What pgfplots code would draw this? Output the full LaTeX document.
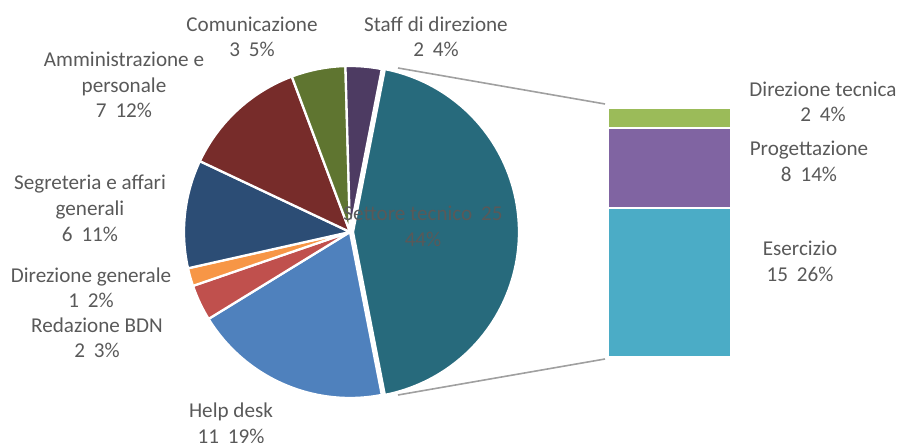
\documentclass[border=0pt]{standalone}
\usepackage{pgfplots}
\pgfplotsset{compat=1.18}
\usepackage{fontspec}
\setmainfont{Carlito}
\definecolor{teal1}{HTML}{276A7C}
\definecolor{helpdesk}{HTML}{4F81BD}
\definecolor{redaz}{HTML}{C0504D}
\definecolor{dirgen}{HTML}{F79646}
\definecolor{segr}{HTML}{2C4D75}
\definecolor{ammin}{HTML}{772C2A}
\definecolor{comun}{HTML}{5F7530}
\definecolor{staff}{HTML}{4D3B62}
\definecolor{eserc}{HTML}{4BACC6}
\definecolor{proget}{HTML}{8064A2}
\definecolor{dirtec}{HTML}{9BBB59}
\definecolor{lblgray}{HTML}{595959}
\definecolor{linegray}{HTML}{A0A0A0}
\def\tot{57}
\newcommand\pieslice[3]{%
  \pgfmathsetmacro\sa{\cur}%
  \pgfmathsetmacro\ea{\cur-360*#1/\tot}%
  \xdef\cur{\ea}%
  \edef\temp{\noexpand\addplot[fill=#2, draw=white, line width=2.3pt, line join=round, domain=\ea:\sa, samples=90] ({#3+166*cos(x)},{211+166*sin(x)}) -- (axis cs:#3,211) -- cycle;}%
  \temp
}
\newcommand\lbl[3]{\node[anchor=base, text=lblgray, inner sep=0pt, font=\fontsize{21.2}{25}\selectfont] at (axis cs:#1,{443-#2}) {#3};}
\newcommand\sep{\hspace{0.42em}}
\begin{document}
\begin{tikzpicture}
\begin{axis}[at={(0,0)}, anchor=south west, width=899bp, height=443bp, scale only axis,
  xmin=0, xmax=899, ymin=0, ymax=443, hide axis, clip=false]
\pgfmathsetmacro\cur{360*25/57/2}
\xdef\cur{\cur}
\pieslice{25}{teal1}{353}
\pieslice{11}{helpdesk}{350}
\pieslice{2}{redaz}{350}
\pieslice{1}{dirgen}{350}
\pieslice{6}{segr}{350}
\pieslice{7}{ammin}{350}
\pieslice{3}{comun}{350}
\pieslice{2}{staff}{350}
\addplot[linegray, line width=1.6pt, no marks] coordinates {(398,375) (605,339)};
\addplot[linegray, line width=1.6pt, no marks] coordinates {(398,48) (605,84)};
\lbl{252}{32}{Comunicazione}
\lbl{252}{57}{3\sep5\%}
\lbl{436}{32}{Staff di direzione}
\lbl{436}{57}{2\sep4\%}
\lbl{124}{67}{Amministrazione e}
\lbl{124}{93}{personale}
\lbl{124}{118}{7\sep12\%}
\lbl{90}{190}{Segreteria e affari}
\lbl{90}{216}{generali}
\lbl{90}{242}{6\sep11\%}
\lbl{91}{283}{Direzione generale}
\lbl{91}{308}{1\sep2\%}
\lbl{97}{333}{Redazione BDN}
\lbl{97}{358}{2\sep3\%}
\lbl{231}{417}{Help desk}
\lbl{231}{443}{11\sep19\%}
\lbl{423}{221}{Settore tecnico\sep25}
\lbl{423}{247}{44\%}
\lbl{823}{97}{Direzione tecnica}
\lbl{823}{122}{2\sep4\%}
\lbl{809}{156}{Progettazione}
\lbl{809}{182}{8\sep14\%}
\lbl{800}{256}{Esercizio}
\lbl{800}{282}{15\sep26\%}
\end{axis}
\begin{axis}[at={(608bp,86bp)}, anchor=south west, width=123bp, height=249bp, scale only axis,
  xmin=-0.5, xmax=0.5, ymin=0, ymax=25, hide axis, clip=false, ybar stacked, bar width=123bp]
\addplot[fill=eserc, draw=white, line width=2pt] coordinates {(0,15)};
\addplot[fill=proget, draw=white, line width=2pt] coordinates {(0,8)};
\addplot[fill=dirtec, draw=white, line width=2pt] coordinates {(0,2)};
\end{axis}
\pgfresetboundingbox
\path[use as bounding box] (0,0) rectangle (899bp,443bp);
\end{tikzpicture}
\end{document}
